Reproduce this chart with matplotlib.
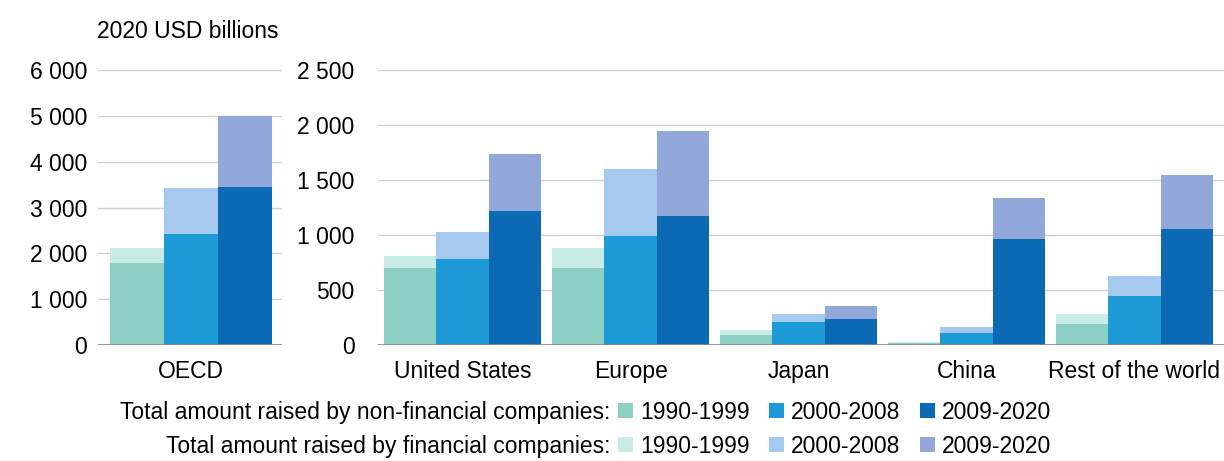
import numpy as np
import matplotlib
matplotlib.use('Agg')
import matplotlib.pyplot as plt

plt.rcParams['font.family'] = ['Liberation Sans', 'DejaVu Sans']
plt.rcParams['font.size'] = 16.5

# Data (2020 USD billions)
periods = ['1990-1999', '2000-2008', '2009-2020']
oecd_nonfin = [1790, 2420, 3450]
oecd_total = [2120, 3430, 5000]

regions = ['United States', 'Europe', 'Japan', 'China', 'Rest of the world']
# rows = regions, cols = periods
reg_nonfin = np.array([[700, 780, 1220],
                       [700, 990, 1170],
                       [90, 210, 235],
                       [20, 110, 965],
                       [190, 445, 1055]])
reg_total = np.array([[810, 1030, 1740],
                      [880, 1600, 1950],
                      [135, 280, 355],
                      [25, 160, 1340],
                      [280, 630, 1550]])

nonfin_colors = ['#8fd0c6', '#1e9bd7', '#0b6ab3']
fin_colors = ['#c8ebe5', '#a6c9ef', '#93a8da']
grid_color = '#d0d0d0'

fig = plt.figure(figsize=(12.24, 4.61), dpi=100)
ax1 = fig.add_axes([98/1224, 116/461, 184/1224, 275/461])
ax2 = fig.add_axes([378/1224, 116/461, 846/1224, 275/461])

def style(ax, pad_y):
    for s in ax.spines.values():
        s.set_visible(False)
    ax.yaxis.grid(True, color=grid_color, linewidth=1)
    ax.set_axisbelow(True)
    ax.axhline(0, color='#8a8a8a', linewidth=1.2, zorder=3)
    ax.tick_params(axis='both', length=0)
    ax.tick_params(axis='y', pad=pad_y)
    ax.tick_params(axis='x', pad=11)

fmt = lambda v, p: f'{int(v):,}'.replace(',', ' ')

# OECD panel
bw1 = 1.0
for i in range(3):
    x = (i - 1) * bw1
    ax1.bar(x, oecd_total[i] - oecd_nonfin[i], bw1, bottom=oecd_nonfin[i],
            color=fin_colors[i], linewidth=0)
    ax1.bar(x, oecd_nonfin[i], bw1, color=nonfin_colors[i], linewidth=0)
ax1.set_ylim(0, 6000)
ax1.set_yticks(np.arange(0, 6001, 1000))
ax1.yaxis.set_major_formatter(plt.FuncFormatter(fmt))
ax1.set_xlim(-1.72, 1.69)
ax1.set_xticks([0])
ax1.set_xticklabels(['OECD'])
style(ax1, 8)

# Regional panel
bw = 0.312
xc = np.arange(len(regions))
fin_handles, nonfin_handles = [], []
for i in range(3):
    x = xc + (i - 1) * bw
    hf = ax2.bar(x, reg_total[:, i] - reg_nonfin[:, i], bw, bottom=reg_nonfin[:, i],
                 color=fin_colors[i], linewidth=0)
    hn = ax2.bar(x, reg_nonfin[:, i], bw, color=nonfin_colors[i], linewidth=0)
    fin_handles.append(hf)
    nonfin_handles.append(hn)
ax2.set_ylim(0, 2500)
ax2.set_yticks(np.arange(0, 2501, 500))
ax2.yaxis.set_major_formatter(plt.FuncFormatter(fmt))
ax2.set_xlim(-0.504, 4.533)
ax2.set_xticks(xc)
ax2.set_xticklabels(regions)
style(ax2, 17)

fig.text(97/1224, 1 - 32/461, '2020 USD billions', ha='left', va='center')

# Legend rows
for handles, label, ypx in [(nonfin_handles, 'Total amount raised by non-financial companies:', 412),
                            (fin_handles, 'Total amount raised by financial companies:', 446)]:
    y = 1 - ypx / 461
    fig.text(610/1224, y, label, ha='right', va='center')
    fig.legend(handles, periods, loc='center left', bbox_to_anchor=(618/1224, y),
               ncol=3, frameon=False, borderpad=0, borderaxespad=0,
               handlelength=0.66, handleheight=0.66, handletextpad=0.3,
               columnspacing=0.85)

fig.savefig('out.png', dpi=100)
